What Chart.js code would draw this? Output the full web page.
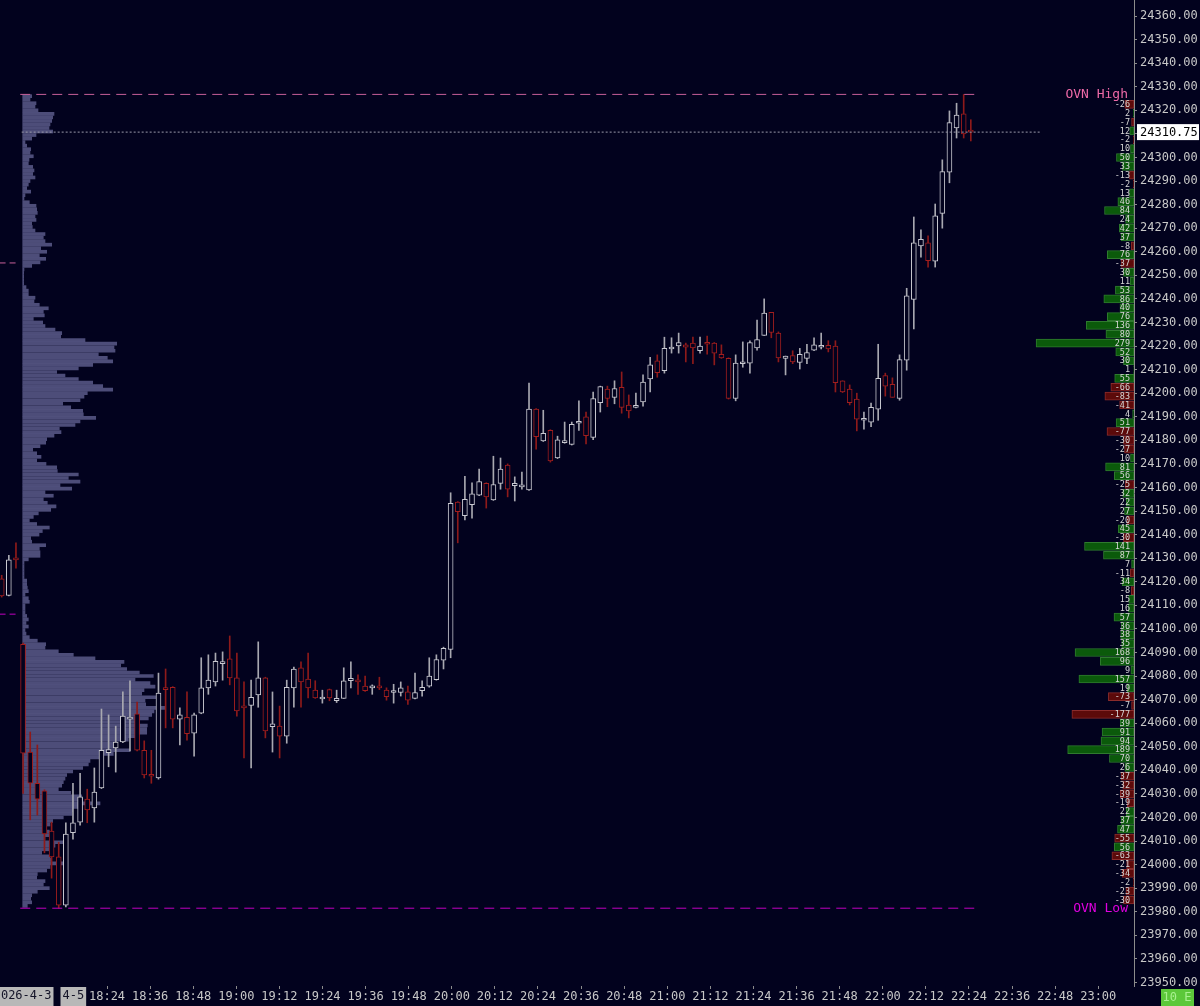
<!DOCTYPE html>
<html><head><meta charset="utf-8">
<script src="https://cdn.jsdelivr.net/npm/chart.js@4.4.1/dist/chart.umd.min.js"></script>
<style>html,body{margin:0;padding:0;background:#02021e;overflow:hidden}canvas{display:block}</style>
</head><body>
<canvas id="c" width="1200" height="1006"></canvas>
<script>
// ---------- DATA ----------
const candleOpen = [24121.25,24114.25,24130.0,24093.5,24047.75,24034.5,24031.25,24014.25,24003.25,23982.75,
 24013.5,24018.0,24027.75,24024.0,24032.5,24047.5,24049.5,24052.0,24061.75,24064.0,
 24048.5,24038.25,24036.75,24075.0,24075.25,24061.75,24062.5,24055.75,24064.25,24075.0,
 24077.5,24085.25,24087.25,24079.25,24067.0,24067.5,24072.0,24079.25,24058.5,24058.75,
 24054.5,24075.0,24083.5,24078.75,24074.0,24070.25,24074.25,24069.5,24070.5,24078.0,
 24078.25,24075.75,24075.0,24075.75,24074.0,24073.0,24073.0,24073.25,24070.5,24073.75,
 24075.75,24078.5,24086.75,24091.25,24153.75,24148.0,24152.75,24156.75,24161.75,24154.75,
 24161.75,24169.5,24160.75,24160.25,24159.0,24193.25,24179.75,24184.25,24172.5,24179.0,
 24178.25,24187.25,24190.0,24181.25,24196.0,24201.75,24198.25,24202.5,24195.0,24194.0,
 24196.25,24206.0,24213.75,24209.5,24218.75,24220.0,24220.5,24221.25,24218.0,24221.25,
 24221.25,24216.5,24214.75,24197.75,24212.5,24212.75,24219.25,24224.5,24234.25,24225.5,
 24214.75,24216.0,24213.0,24214.75,24218.25,24219.5,24220.25,24220.0,24205.25,24201.75,
 24197.5,24188.5,24187.75,24193.25,24207.5,24203.75,24197.75,24214.0,24239.75,24262.5,
 24263.75,24256.0,24276.25,24293.75,24312.5,24318.5,24311.25];
const candleHigh = [24122.75,24131.25,24136.5,24094.0,24056.25,24050.75,24031.75,24018.0,24009.5,24017.75,
 24034.5,24038.75,24032.0,24041.0,24066.0,24063.5,24058.75,24073.25,24078.0,24069.0,
 24052.5,24048.5,24081.25,24083.0,24075.5,24066.5,24073.25,24064.25,24087.75,24089.0,
 24089.75,24090.25,24097.0,24089.75,24077.5,24078.25,24094.5,24079.5,24073.25,24067.25,
 24078.25,24083.75,24086.0,24089.75,24078.0,24074.0,24074.5,24074.0,24083.5,24086.0,
 24080.5,24080.0,24076.25,24079.5,24075.0,24076.5,24077.5,24075.75,24081.25,24078.0,
 24087.75,24089.0,24092.25,24157.75,24154.0,24164.75,24162.0,24167.75,24162.0,24173.25,
 24172.5,24170.0,24164.5,24166.5,24204.25,24193.5,24192.75,24184.5,24181.75,24187.75,
 24187.75,24196.75,24192.0,24200.5,24203.0,24203.0,24205.25,24209.0,24199.25,24200.0,
 24207.75,24215.25,24216.25,24223.75,24223.5,24225.5,24221.25,24223.75,24223.75,24224.25,
 24221.5,24220.5,24215.0,24216.25,24221.75,24222.25,24231.0,24240.0,24234.25,24226.0,
 24215.75,24218.0,24219.0,24220.75,24223.5,24225.5,24222.25,24222.25,24205.25,24203.5,
 24200.0,24192.0,24195.75,24220.75,24208.5,24206.5,24216.25,24244.5,24274.75,24269.25,
 24266.75,24280.25,24299.0,24319.75,24323.0,24326.75,24316.0];
const candleLow = [24113.5,24114.0,24125.75,24030.25,24019.0,24021.0,24005.0,23994.25,23981.5,23982.0,
 24010.75,24016.75,24017.75,24018.0,24032.25,24041.5,24039.25,24051.75,24048.25,24048.25,
 24036.75,24034.5,24036.25,24058.0,24058.0,24050.75,24052.75,24046.0,24064.0,24072.25,
 24075.75,24078.25,24076.25,24063.0,24045.25,24041.0,24066.75,24053.75,24047.75,24045.25,
 24051.5,24066.75,24066.75,24070.75,24070.5,24068.5,24069.5,24068.75,24070.5,24075.0,
 24072.25,24073.5,24072.25,24074.25,24069.75,24068.5,24071.5,24068.0,24070.25,24071.5,
 24075.25,24078.25,24083.0,24087.75,24136.5,24146.25,24147.0,24156.5,24151.25,24154.5,
 24159.25,24156.0,24154.25,24159.25,24158.75,24176.25,24179.5,24170.75,24172.25,24178.75,
 24178.0,24184.25,24178.5,24180.25,24192.0,24194.25,24195.5,24191.5,24189.5,24193.75,
 24194.5,24200.5,24206.75,24208.5,24217.0,24217.0,24213.25,24212.5,24217.0,24216.5,
 24212.0,24214.75,24197.5,24196.75,24211.0,24208.5,24218.25,24224.5,24223.5,24213.25,
 24207.75,24212.5,24210.25,24212.5,24218.0,24218.75,24217.5,24200.5,24200.25,24195.0,
 24184.0,24184.75,24185.75,24188.5,24198.75,24198.25,24197.0,24209.75,24227.25,24257.75,
 24253.5,24253.5,24270.0,24289.25,24308.25,24308.25,24307.0];
const candleClose = [24114.0,24129.25,24129.25,24047.25,24034.5,24027.75,24013.0,24003.25,23982.75,24013.0,
 24017.75,24028.75,24023.25,24030.75,24048.5,24048.75,24052.0,24063.0,24062.5,24048.5,
 24038.0,24037.5,24072.75,24074.25,24061.75,24063.5,24055.5,24063.5,24075.0,24078.25,
 24086.25,24086.0,24079.25,24065.25,24066.5,24071.0,24079.25,24056.75,24059.75,24054.5,
 24075.25,24083.0,24077.5,24075.0,24070.75,24070.75,24070.75,24070.5,24078.0,24079.0,
 24077.5,24073.75,24075.25,24075.0,24071.25,24073.25,24075.0,24069.75,24073.0,24075.25,
 24080.0,24087.0,24091.75,24153.25,24149.75,24155.0,24157.25,24162.5,24156.0,24161.25,
 24167.75,24159.25,24161.75,24161.0,24193.25,24181.5,24183.0,24171.25,24180.25,24179.75,
 24186.75,24187.5,24182.0,24197.75,24202.75,24197.75,24202.0,24194.0,24192.5,24194.25,
 24204.75,24212.0,24208.75,24219.0,24219.5,24221.5,24219.5,24219.25,24220.0,24220.75,
 24217.0,24215.0,24197.75,24212.75,24212.75,24221.5,24222.75,24234.0,24225.75,24215.0,
 24215.75,24213.25,24216.5,24217.25,24220.5,24220.25,24218.75,24204.5,24200.5,24196.0,
 24189.0,24189.0,24194.0,24206.25,24203.0,24198.25,24214.25,24241.25,24263.75,24265.25,
 24256.25,24275.25,24294.0,24314.75,24318.0,24310.0,24310.75];

// left volume profile (1.5 pt rows, from top row price down)
const profileTop = 24326.0;
const profileStep = 1.5;
const profileVolume = [9,7.3,13.3,12.3,15.3,31.3,30,29,27.3,26.3,
 30,13.3,9,2.3,4,8,7.3,10.6,6.3,5.6,
 10,11.3,10,12.3,7.3,5.6,4,8,2.3,1.3,
 6.6,13.3,14,14.6,12.3,13.3,9,9.6,12.3,22.3,
 20.6,22.3,29,18,24,16.6,23,17.3,9,1.3,
 1,1,1,1,3.3,5.6,5.6,12.3,11.3,16.6,
 25.6,20.6,21.6,10.6,20,22.3,32.3,39,38,62.3,
 94,91.3,92.3,75.6,84.6,90,70,55.6,34,42.3,
 55.6,70,80,90,64.6,61.3,57.3,40,48,60,
 60.6,73,57.3,52.3,36.6,38.3,31.3,24,23,17.3,
 10,14,18.3,14,23.3,34,34.6,55.6,45.6,57.3,
 37.3,49,22.3,30.6,20.6,24.6,33.3,28,15.6,10.6,
 6.6,14,26.6,19.6,16.3,8,9,23,16.6,17.3,
 17.3,5.6,1.3,1.3,1.3,1.3,1.3,4,4,4.6,
 5.6,2.3,5.6,6.6,2.3,2.3,2.3,4,5.6,3.3,
 5.6,2.3,3.3,6.6,14.6,23,22.3,35.6,50.6,72.3,
 101.3,98,104,116.6,130.6,112.3,127.3,132.3,121.3,119,
 134,122.3,123,142.3,131.3,129,125.6,116.6,124.6,124,
 124,114,105.6,94,94,107.3,90.6,77.3,67.3,65.6,
 60,50,44,42.3,40.6,39,35.6,48,59,60,
 77.3,57.3,50,49,40.6,30,27.3,20,26.6,29,
 22.3,40.6,32.3,27.3,19,27.3,29,43.3,27.3,24,
 14.6,14,22.3,20.6,26.6,14.6,9,8,9,4.6];

// right delta profile (3.75 pt rows)
const deltaTop = 24322.5;
const deltaStep = 3.75;
const deltaValues = [-26,2,-7,12,-2,10,50,33,-13,-2,13,46,84,24,42,37,-8,76,-37,30,
 11,53,86,40,76,136,80,279,52,30,1,55,-66,-83,-41,4,51,-77,-30,-27,
 10,81,56,-25,32,22,27,-20,45,-30,141,87,7,-11,34,-8,15,16,57,36,
 38,35,168,96,9,157,19,-73,-7,-177,39,91,94,189,70,26,-37,-32,-39,-19,
 22,37,47,-55,56,-63,-21,-34,-2,-23,-30];

const timeLabels = ['18:24','18:36','18:48','19:00','19:12','19:24','19:36','19:48','20:00','20:12','20:24','20:36',
 '20:48','21:00','21:12','21:24','21:36','21:48','22:00','22:12','22:24','22:36','22:48','23:00'];
const dateLabels = ['2026-4-3','4-5'];
const ovnHigh = 24326.75, ovnLow = 23981.5, lastPrice = 24310.75;
const prevHighLine = 24255.25, prevLowLine = 24106.25;
const sessionStartBar = 3;

// ---------- STYLE ----------
const BG = '#02021e';
const MONO = '"DejaVu Sans Mono", "Liberation Mono", monospace';
const UP = '#c8c8d0', UPW = '#a8a8b0', DN = '#a21e1e', DNW = '#8e1a1a';
const isUp = i => candleClose[i] >= candleOpen[i];
const nBars = candleOpen.length;
const idx = candleOpen.map((_, i) => i);

const wickData = idx.map(i => ({x: i, y: [candleLow[i], candleHigh[i]]}));
const bodyData = idx.map(i => ({x: i, y: [candleOpen[i], candleClose[i]]}));
const profData = profileVolume.map((v, i) => ({x: v, y: profileTop - i * profileStep}));
const deltaData = deltaValues.map((v, i) => ({x: Math.abs(v), y: deltaTop - i * deltaStep}));

const xFirstTick = 14.78, xTickStep = 6.048; // bar units
const lineStart = sessionStartBar - 0.4, lineEnd = nBars - 0.4;

const bgPlugin = {
  id: 'bg',
  beforeDraw(chart) {
    const c = chart.ctx;
    c.save(); c.fillStyle = BG; c.fillRect(0, 0, chart.width, chart.height); c.restore();
  },
  afterDraw(chart) {
    const c = chart.ctx, y = chart.scales.y, x = chart.scales.x, area = chart.chartArea;
    c.save();
    // delta numbers
    c.font = '8.5px ' + MONO; c.textAlign = 'right'; c.textBaseline = 'middle'; c.fillStyle = '#d6d6d6';
    deltaValues.forEach((v, i) => {
      c.fillText(String(v), area.right - 4, y.getPixelForValue(deltaTop - i * deltaStep) + 0.5);
    });
    // OVN labels
    c.font = '13px ' + MONO;
    c.fillStyle = '#ee6aa8';
    c.fillText('OVN High', area.right - 6, y.getPixelForValue(ovnHigh));
    c.fillStyle = '#e000e0';
    c.fillText('OVN Low', area.right - 6, y.getPixelForValue(ovnLow));
    // last price box
    const py = y.getPixelForValue(lastPrice);
    c.fillStyle = '#ffffff'; c.fillRect(area.right + 3, py - 8, 62, 16);
    c.fillStyle = '#000000'; c.font = '12px ' + MONO; c.textAlign = 'left';
    c.fillText(lastPrice.toFixed(2), area.right + 6, py + 0.5);
    // date labels on time axis
    const ty = area.bottom + 10;
    c.font = '12px ' + MONO; c.textAlign = 'center';
    const dPos = [x.getPixelForValue(sessionStartBar) - 0.5, x.getPixelForValue(sessionStartBar + 7.05)];
    dateLabels.forEach((t, i) => {
      const w = c.measureText(t).width + 4;
      c.fillStyle = '#b8b8b8'; c.fillRect(dPos[i] - w / 2, area.bottom + 1, w, 19);
      c.fillStyle = '#141428'; c.fillText(t, dPos[i], ty);
    });
    // status box bottom-right
    c.fillStyle = '#5cc83a'; c.fillRect(1161, 989, 33, 17);
    c.fillStyle = '#a8f090'; c.fillText('10 E', 1177, 998);
    c.restore();
  }
};

const hiddenX = (min, max, rev) => ({type: 'linear', display: false, min, max, reverse: !!rev, offset: false,
  grid: {offset: false}, beginAtZero: false});

new Chart(document.getElementById('c'), {
  type: 'bar',
  data: {
    datasets: [
      {type: 'line', data: [{x: lineStart, y: ovnHigh}, {x: lineEnd, y: ovnHigh}], borderColor: '#c8609a', borderWidth: 1, borderDash: [10, 6], pointRadius: 0, xAxisID: 'x', yAxisID: 'y', order: 1},
      {type: 'line', data: [{x: lineStart, y: ovnLow}, {x: lineEnd, y: ovnLow}], borderColor: '#c000c0', borderWidth: 1, borderDash: [10, 6], pointRadius: 0, xAxisID: 'x', yAxisID: 'y', order: 1},
      {type: 'line', data: [{x: sessionStartBar - 0.2, y: lastPrice}, {x: 145.7, y: lastPrice}], borderColor: '#9a9aaa', borderWidth: 1, borderDash: [2, 2], pointRadius: 0, xAxisID: 'x', yAxisID: 'y', order: 1},
      {type: 'line', data: [{x: -0.3, y: prevHighLine}, {x: 2.3, y: prevHighLine}], borderColor: '#c8609a', borderWidth: 1, borderDash: [6, 4], pointRadius: 0, xAxisID: 'x', yAxisID: 'y', order: 1},
      {type: 'line', data: [{x: -0.3, y: prevLowLine}, {x: 2.3, y: prevLowLine}], borderColor: '#c000c0', borderWidth: 1, borderDash: [6, 4], pointRadius: 0, xAxisID: 'x', yAxisID: 'y', order: 1},
      {label: 'wick', data: wickData, xAxisID: 'x', yAxisID: 'y', barThickness: 1, grouped: false,
        backgroundColor: ctx => isUp(ctx.dataIndex) ? UPW : DNW, borderWidth: 0, order: 3},
      {label: 'body', data: bodyData, xAxisID: 'x', yAxisID: 'y', barThickness: 5, grouped: false, minBarLength: 2,
        backgroundColor: BG, borderColor: ctx => isUp(ctx.dataIndex) ? UP : DN, borderWidth: 1, borderSkipped: false, order: 2},
      {label: 'profile', data: profData, indexAxis: 'y', xAxisID: 'xv', yAxisID: 'y', barThickness: 3, grouped: false,
        backgroundColor: 'rgba(90,90,138,0.85)', borderWidth: 0, order: 5},
      {label: 'delta', data: deltaData, indexAxis: 'y', xAxisID: 'xd', yAxisID: 'y', barThickness: 8, grouped: false,
        backgroundColor: ctx => deltaValues[ctx.dataIndex] >= 0 ? '#0b5a0b' : '#5c0a0a',
        borderColor: ctx => deltaValues[ctx.dataIndex] >= 0 ? '#2f7a2f' : '#8a2c2c',
        borderWidth: 1, borderSkipped: false, order: 4}
    ]
  },
  options: {
    responsive: false, animation: false, devicePixelRatio: 1,
    layout: {padding: 0},
    plugins: {legend: {display: false}, tooltip: {enabled: false}},
    events: [],
    scales: {
      x: {type: 'linear', position: 'bottom', min: -0.24, max: 158.9, offset: false, beginAtZero: false,
        afterBuildTicks: s => { s.ticks = timeLabels.map((l, i) => ({value: xFirstTick + i * xTickStep})); },
        afterFit: s => { s.height = 20; s.paddingLeft = 0; s.paddingRight = 0; },
        ticks: {autoSkip: false, maxRotation: 0, padding: 1, color: '#c8c8c8', font: {family: MONO, size: 12},
          callback: (v, i) => timeLabels[i]},
        grid: {drawOnChartArea: false, tickLength: 3, color: '#8c8c8c', offset: false},
        border: {display: false}},
      xv: hiddenX(-22.7, 1111.3),
      xd: hiddenX(0, 3231, true),
      y: {type: 'linear', position: 'right', min: 23948.5, max: 24366.8, offset: false, beginAtZero: false,
        afterFit: s => { s.width = 66; s.paddingTop = 0; s.paddingBottom = 0; },
        ticks: {stepSize: 10, includeBounds: false, padding: 3, color: '#c8c8c8', font: {family: MONO, size: 12},
          callback: v => Number(v).toFixed(2)},
        grid: {drawOnChartArea: false, tickLength: 3, color: '#8c8c8c', offset: false},
        border: {display: true, color: '#8c8c8c'}}
    }
  },
  plugins: [bgPlugin]
});
</script>
</body></html>
